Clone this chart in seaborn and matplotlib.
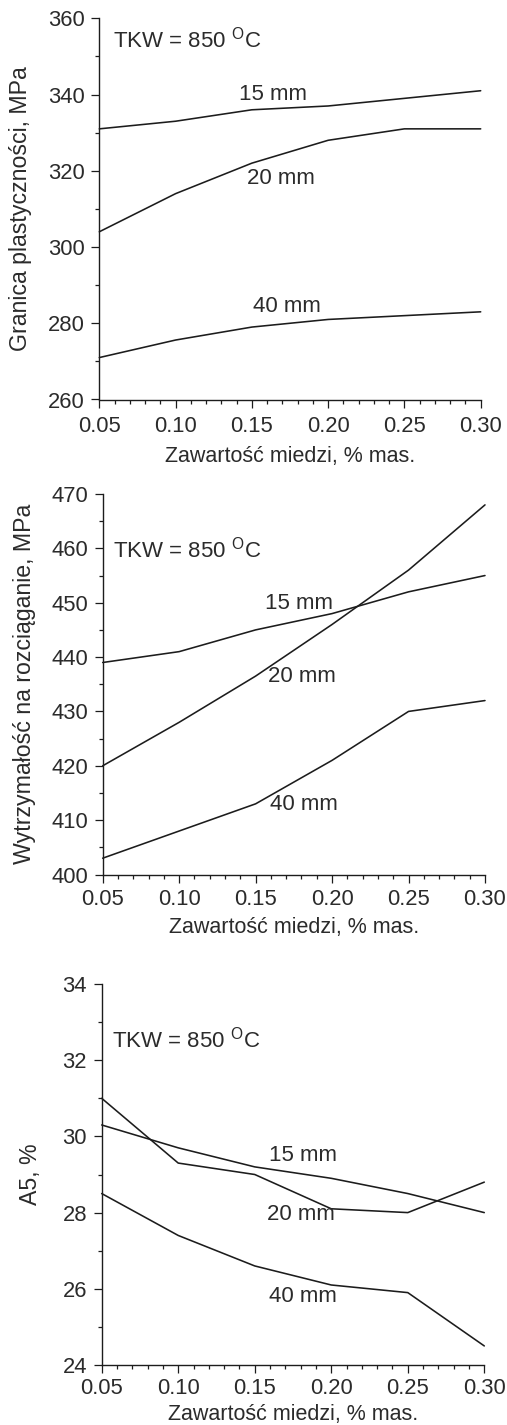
import matplotlib
matplotlib.use("Agg")
import matplotlib.pyplot as plt
from matplotlib.ticker import MultipleLocator, FixedLocator
import seaborn as sns
import pandas as pd

# Copper content, % mass
cu = [0.05, 0.10, 0.15, 0.20, 0.25, 0.30]
x_ticks = [0.05, 0.10, 0.15, 0.20, 0.25, 0.30]
x_ticklabels = ["0.05", "0.10", "0.15", "0.20", "0.25", "0.30"]
thickness = ["15 mm", "20 mm", "40 mm"]

# Yield strength, MPa
ys_15 = [331, 333, 336, 337, 339, 341]
ys_20 = [304, 314, 322, 328, 331, 331]
ys_40 = [271, 275.6, 279, 281, 282, 283]

# Tensile strength, MPa
ts_15 = [439, 441, 445, 448, 452, 455]
ts_20 = [420, 428, 436.5, 446, 456, 468]
ts_40 = [403, 408, 413, 421, 430, 432]

# Elongation A5, %
a5_15 = [30.3, 29.7, 29.2, 28.9, 28.5, 28.0]
a5_20 = [31.0, 29.3, 29.0, 28.1, 28.0, 28.8]
a5_40 = [28.5, 27.4, 26.6, 26.1, 25.9, 24.5]

sns.set_theme(style="ticks")
plt.rcParams["font.family"] = ["Liberation Sans", "DejaVu Sans"]
plt.rcParams["mathtext.fontset"] = "custom"
plt.rcParams["mathtext.rm"] = "Liberation Sans"

TXT = "#2b2b2b"
LINE = "#1c1c1c"

panels = [
    dict(series=[ys_15, ys_20, ys_40], ylim=(260, 360), major=20, minor=10,
         ylabel="Granica plastyczności, MPa",
         rect=[99.3, 18.3, 480.7, 399.5],
         labels=[(0.164, 340.1), (0.169, 318.1), (0.173, 284.5)],
         tkw=(0.059, 354.3), ylab_x=-0.176, xlab_y=-0.1226, xpad=6.0),
    dict(series=[ts_15, ts_20, ts_40], ylim=(400, 470), major=10, minor=5,
         ylabel="Wytrzymałość na rozciąganie, MPa",
         rect=[102.7, 494, 485, 874.5],
         labels=[(0.1786, 449.9), (0.180, 436.4), (0.1817, 412.8)],
         tkw=(0.057, 459.7), ylab_x=-0.174, xlab_y=-0.1105, xpad=4.7),
    dict(series=[a5_15, a5_20, a5_40], ylim=(24, 34), major=2, minor=1,
         ylabel="A5, %",
         rect=[101.7, 984, 484.3, 1365],
         labels=[(0.1813, 29.49), (0.180, 27.95), (0.1813, 25.81)],
         tkw=(0.0565, 32.55), ylab_x=-0.156, xlab_y=-0.102, xpad=3.5),
]

W, H = 507, 1425
fig = plt.figure(figsize=(W / 100, H / 100), dpi=100)
fig.patch.set_facecolor("white")

for p in panels:
    l, t, r, b = p["rect"]
    ax = fig.add_axes([l / W, 1 - b / H, (r - l) / W, (b - t) / H])
    ax.set_facecolor("white")

    for vals, name in zip(p["series"], thickness):
        df = pd.DataFrame({"cu": cu, "val": vals})
        sns.lineplot(data=df, x="cu", y="val", ax=ax, color=LINE,
                     linewidth=1.15, clip_on=False)

    for (lx, ly), name in zip(p["labels"], thickness):
        ax.text(lx, ly, name, ha="center", va="center", fontsize=16, color=TXT)
    ax.text(p["tkw"][0], p["tkw"][1], r"TKW = 850 $^{\mathrm{O}}$C",
            ha="left", va="center", fontsize=16, color=TXT)

    ax.set_xlim(0.05, 0.30)
    ax.set_ylim(*p["ylim"])
    ax.xaxis.set_major_locator(FixedLocator(x_ticks))
    ax.set_xticklabels(x_ticklabels)
    ax.xaxis.set_minor_locator(MultipleLocator(0.01))
    ax.yaxis.set_major_locator(MultipleLocator(p["major"]))
    ax.yaxis.set_minor_locator(MultipleLocator(p["minor"]))

    sns.despine(ax=ax)
    for s in ("left", "bottom"):
        ax.spines[s].set_color(LINE)
        ax.spines[s].set_linewidth(1.0)

    ax.tick_params(axis="both", which="major", direction="out", length=6,
                   width=0.9, color=LINE, labelsize=15.8, labelcolor=TXT)
    ax.tick_params(axis="both", which="minor", direction="out", length=3.2,
                   width=0.9, color=LINE)
    ax.tick_params(axis="x", which="major", pad=p["xpad"])
    ax.tick_params(axis="y", which="major", pad=4.5)

    ax.set_xlabel("Zawartość miedzi, % mas.", fontsize=15.5, color=TXT)
    ax.set_ylabel(p["ylabel"], fontsize=16.7, color=TXT)
    ax.xaxis.set_label_coords(0.5, p["xlab_y"])
    ax.yaxis.set_label_coords(p["ylab_x"], 0.5)

fig.savefig("out.png", dpi=100, facecolor="white")
